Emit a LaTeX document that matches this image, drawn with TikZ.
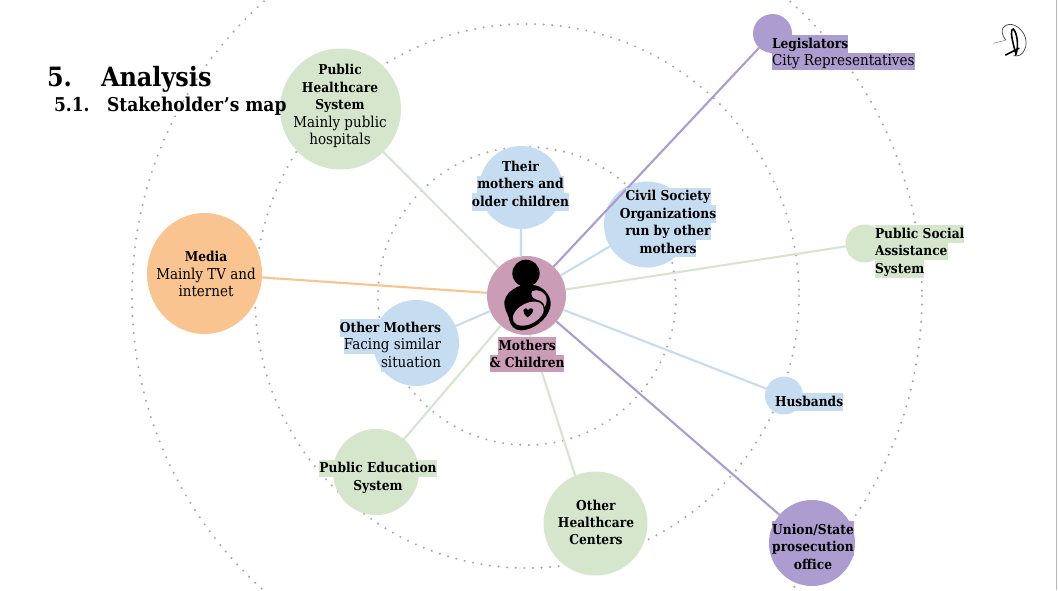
\documentclass[tikz,border=0pt]{standalone}
\usepackage{fontspec}
\setmainfont{DejaVu Serif Condensed}
\usetikzlibrary{calc,shapes.geometric}
\definecolor{cgreen}{HTML}{D5E6CD}
\definecolor{cblue}{HTML}{C6DCF0}
\definecolor{corange}{HTML}{F9C490}
\definecolor{cpurple}{HTML}{AD9CCF}
\definecolor{chub}{HTML}{CA9CB6}
\definecolor{cdots}{HTML}{A8A8A8}
\setlength{\fboxsep}{0pt}
\newcommand{\hlt}[2]{\colorbox{#1}{\rule[-4.3pt]{0pt}{17.4pt}#2}}
\newcommand{\regt}[1]{{\fontsize{15}{17.4}\selectfont #1}}
\tikzset{
  x=1pt,y=-1pt,
  ring/.style={draw=cdots,line width=2.3pt,line cap=round,dash pattern=on 0pt off 8.6pt},
  blob/.style={circle,inner sep=0pt,outer sep=0pt,minimum size=2*#1 pt},
  link/.style={line width=2.1pt},
  lbl/.style={inner sep=0pt,outer sep=0pt,font=\fontsize{13.6}{17.4}\selectfont,text=black},
  head/.style={inner sep=0pt,outer sep=0pt,anchor=base west,font=\bfseries}
}
\begin{document}
\begin{tikzpicture}
\useasboundingbox (0,0) rectangle (1058,590);
\fill[white] (0,0) rectangle (1058,590);
\begin{scope}
\clip (0,0) rectangle (1058,590);
\draw[ring] (527,296) circle[radius=149];
\draw[ring] (527,296) circle[radius=272];
\draw[ring] (527,296) circle[radius=395];
\end{scope}
\draw[line width=1.2pt,black!28] (1056.6,0) -- (1056.6,590);
% circles
\node[blob=60.5,fill=cgreen] (phs) at (340.5,109) {};
\node[ellipse,inner sep=0pt,outer sep=0pt,minimum width=115pt,minimum height=121pt,fill=corange] (media) at (204.5,273.5) {};
\node[blob=41.5,fill=cblue] (their) at (521,187.5) {};
\node[blob=43,fill=cblue] (civil) at (647,224.5) {};
\node[blob=43,fill=cblue] (other) at (416,343) {};
\node[blob=43,fill=cgreen] (edu) at (376,472) {};
\node[blob=52,fill=cgreen] (ohc) at (595.5,523.5) {};
\node[blob=43,fill=cpurple] (union) at (812,543) {};
\node[blob=19,fill=cblue] (husb) at (784,395.5) {};
\node[blob=19,fill=cgreen] (social) at (864.5,243.5) {};
\node[blob=19.5,fill=cpurple] (legis) at (772.5,33.5) {};
\node[blob=39.5,fill=chub] (hub) at (526.5,295.5) {};
% connectors
\draw[link,cgreen] (hub) -- (phs);
\draw[link,corange] (hub) -- (media);
\draw[link,cblue] (hub.98) -- (their.270);
\draw[link,cblue] (hub) -- (civil);
\draw[link,cblue] (hub) -- (other);
\draw[link,cgreen] (hub) -- (edu);
\draw[link,cgreen] (hub.-85) -- (ohc.113);
\draw[link,cpurple] (hub) -- (union);
\draw[link,cblue] (hub) -- (husb);
\draw[link,cgreen] (hub) -- (social);
\draw[link,cpurple] (hub) -- (legis);
% mother and child icon
\begin{scope}[shift={(495,255)},scale=0.3333]
\fill[black] (93,55) circle[radius=41];
\fill[black] (28,140) .. controls (32,118) and (48,105) .. (68,95)
  .. controls (85,90) and (120,85) .. (138,98)
  .. controls (160,112) and (172,135) .. (165,160)
  .. controls (155,195) and (115,225) .. (78,226)
  .. controls (58,226) and (45,212) .. (42,190)
  .. controls (38,175) and (26,160) .. (28,140) -- cycle;
\fill[chub,rotate around={28:(100,176)}] (100,176) ellipse[x radius=50,y radius=31];
\fill[chub] (112,108) .. controls (128,100) and (155,112) .. (155,135)
  .. controls (155,143) and (153,150) .. (149,156)
  .. controls (148,142) and (135,136) .. (125,134)
  .. controls (112,130) and (105,118) .. (112,108) -- cycle;
\fill[black] (98,187) .. controls (90,180) and (83,173) .. (85,165)
  .. controls (87,158) and (96,158) .. (99,166)
  .. controls (102,158) and (113,158) .. (114,165)
  .. controls (115,173) and (107,180) .. (98,187) -- cycle;
\end{scope}
% signature
\begin{scope}[shift={(985,15)},scale=0.3333]
\draw[black!45,line width=0.6pt] (25,85) .. controls (40,80) and (50,80) .. (62,75);
\draw[black!75,line width=0.7pt] (62,75) .. controls (40,45) and (55,28) .. (78,28) .. controls (110,32) and (135,75) .. (118,105) .. controls (112,120) and (100,125) .. (85,122);
\draw[black,line width=1.6pt,line cap=round] (92,120) .. controls (102,95) and (97,55) .. (85,42) .. controls (73,45) and (83,80) .. (92,115);
\draw[black,line width=1.6pt,line cap=round] (62,120) -- (102,100);
\end{scope}
% headings
\node[head,font=\fontsize{26.6}{30}\selectfont\bfseries] (h5) at (47,86) {5.};
\node[head,font=\fontsize{26.6}{30}\selectfont\bfseries] (h5t) at (101,86) {Analysis};
\node[head,font=\fontsize{19}{22}\selectfont\bfseries] (h51) at (54,111) {5.1.};
\node[head,font=\fontsize{19}{22}\selectfont\bfseries] (h51t) at (107,111) {Stakeholder’s map};
% labels
\node[lbl,align=center] (tphs) at (340,106) {\textbf{Public}\\\textbf{Healthcare}\\\textbf{System}\\\regt{Mainly public}\\\regt{hospitals}};
\node[lbl,align=center] (tmedia) at (206,274) {\textbf{Media}\\\regt{Mainly TV and}\\\regt{internet}};
\node[lbl,align=center] (ttheir) at (520.5,184.5) {\hlt{cblue}{\textbf{Their}}\\\hlt{cblue}{\textbf{mothers and}}\\\hlt{cblue}{\textbf{older children}}};
\node[lbl,align=center] (tcivil) at (668,222.5) {\hlt{cblue}{\textbf{Civil Society}}\\\hlt{cblue}{\textbf{Organizations}}\\\hlt{cblue}{\textbf{run by other}}\\\hlt{cblue}{\textbf{mothers}}};
\node[lbl,align=right,anchor=east] (tother) at (441,345.5) {\hlt{cblue}{\textbf{Other Mothers}}\\\hlt{cblue}{\regt{Facing similar}}\\\hlt{cblue}{\regt{situation}}};
\node[lbl,align=center] (tedu) at (378,477) {\hlt{cgreen}{\textbf{Public Education}}\\\hlt{cgreen}{\textbf{System}}};
\node[lbl,align=center] (tohc) at (596,522.5) {\textbf{Other}\\\textbf{Healthcare}\\\textbf{Centers}};
\node[lbl,align=center] (tunion) at (813,547.5) {\hlt{cpurple}{\textbf{Union/State}}\\\hlt{cpurple}{\textbf{prosecution}}\\\hlt{cpurple}{\textbf{office}}};
\node[lbl,align=left,anchor=west] (thusb) at (775,402) {\hlt{cblue}{\textbf{Husbands}}};
\node[lbl,align=left,anchor=west] (tsocial) at (875,251.5) {\hlt{cgreen}{\textbf{Public Social}}\\\hlt{cgreen}{\textbf{Assistance}}\\\hlt{cgreen}{\textbf{System}}};
\node[lbl,align=left,anchor=west] (tlegis) at (772,52.5) {\hlt{cpurple}{\textbf{Legislators}}\\\hlt{cpurple}{\regt{City Representatives}}};
\node[lbl,align=center] (thub) at (527,354.5) {\hlt{chub}{\textbf{Mothers}}\\\hlt{chub}{\textbf{\& Children}}};
\end{tikzpicture}
\end{document}
